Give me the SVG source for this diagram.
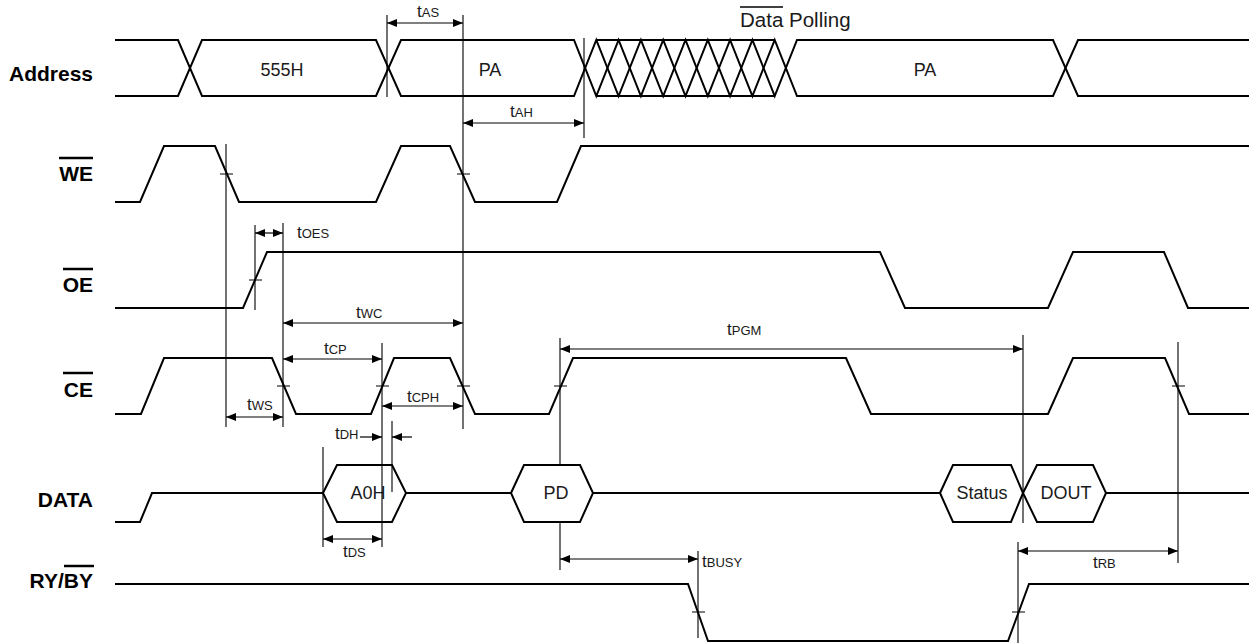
<svg xmlns="http://www.w3.org/2000/svg" width="1249" height="643" viewBox="0 0 1249 643">
<style>
.sig{fill:none;stroke:#000;stroke-width:2;stroke-linejoin:miter}
.guide{fill:none;stroke:#000;stroke-width:1.1}
.tick{fill:none;stroke:#000;stroke-width:1.1}
.arr{fill:none;stroke:#000;stroke-width:1.2;marker-end:url(#ah);marker-start:url(#ah)}
.arr1{fill:none;stroke:#000;stroke-width:1.2;marker-end:url(#ah)}
.name{font-family:"Liberation Sans",Arial,sans-serif;font-weight:bold;font-size:21px;fill:#000;text-anchor:end}
.bus{font-family:"Liberation Sans",Arial,sans-serif;font-size:18px;fill:#1a1a1a;text-anchor:middle}
.tl{font-family:"Liberation Sans",Arial,sans-serif;fill:#1a1a1a}
.t{font-size:17px}
.s{font-size:13px}
.ol{stroke:#000;stroke-width:2.5}
</style>
<defs>
<marker id="ah" viewBox="0 0 10 8" refX="10" refY="4" markerWidth="10" markerHeight="8" markerUnits="userSpaceOnUse" orient="auto-start-reverse">
<path d="M0,0 L10,4 L0,8 Z" fill="#000"/>
</marker>
</defs>
<rect width="1249" height="643" fill="#fff"/>

<g id="label-address">
<text class="name" x="93" y="81">Address</text>
</g>
<g id="label-we">
<text class="name" x="93" y="181">WE</text>
<line class="ol" x1="59" y1="158" x2="93" y2="158"/>
</g>
<g id="label-oe">
<text class="name" x="93" y="292">OE</text>
<line class="ol" x1="63" y1="269" x2="93" y2="269"/>
</g>
<g id="label-ce">
<text class="name" x="93" y="397">CE</text>
<line class="ol" x1="63" y1="373" x2="93" y2="373"/>
</g>
<g id="label-data">
<text class="name" x="93" y="507">DATA</text>
</g>
<g id="label-ryby">
<text class="name" x="93" y="588">RY/BY</text>
<line class="ol" x1="64" y1="566" x2="94" y2="566"/>
</g>

<g id="address">
<path class="sig" d="M115,40 H178 L202,96 H376 L401,40 H574 L596.3,96 L618.6,40 L640.9,96 L663.2,40 L685.5,96 L707.8,40 L730.1,96 L752.4,40 L774.7,96 L797,40 H1053 L1078,96 H1249"/>
<path class="sig" d="M115,96 H178 L202,40 H376 L401,96 H574 L596.3,40 L618.6,96 L640.9,40 L663.2,96 L685.5,40 L707.8,96 L730.1,40 L752.4,96 L774.7,40 L797,96 H1053 L1078,40 H1249"/>
<path class="sig" d="M596.3,40 H774.7 M596.3,96 H774.7"/>
<text class="bus" x="282" y="76">555H</text>
<text class="bus" x="490" y="76">PA</text>
<text class="bus" x="925" y="76">PA</text>
<text class="tl" x="740" y="27" font-size="20.5">Data Polling</text>
<line stroke="#000" stroke-width="1.6" x1="740" y1="7" x2="783" y2="7"/>
</g>

<g id="we">
<path class="sig" d="M115,202 H140 L164,146 H215 L239,202 H376 L401,146 H450 L475,202 H557 L581,146 H1249"/>
</g>

<g id="oe">
<path class="sig" d="M115,308 H243 L267,252 H880 L905,308 H1048 L1073,252 H1164 L1188,308 H1249"/>
</g>

<g id="ce">
<path class="sig" d="M115,414 H141 L164,358 H272 L296,414 H371 L394,358 H450 L475,414 H549 L573,358 H846 L871,414 H1048 L1073,358 H1165 L1189,414 H1249"/>
</g>

<g id="data">
<path class="sig" d="M115,522 H140 L152,493 H323 M406,493 H511 M593,493 H940 M1106,493 H1249"/>
<path class="sig" d="M323,493 L337,465 H392 L406,493 L392,522 H337 Z"/>
<path class="sig" d="M511,493 L524,465 H580 L593,493 L580,522 H524 Z"/>
<path class="sig" d="M940,493 L953,465 H1011 L1023,493 L1011,522 H953 Z"/>
<path class="sig" d="M1023,493 L1037,465 H1093 L1106,493 L1093,522 H1037 Z"/>
<text class="bus" x="368" y="499">A0H</text>
<text class="bus" x="556" y="499">PD</text>
<text class="bus" x="982" y="499">Status</text>
<text class="bus" x="1066" y="499">DOUT</text>
</g>

<g id="ryby">
<path class="sig" d="M115,584 H688 L708,641 H1008 L1029,584 H1249"/>
</g>

<g id="connectors">
<path class="guide" d="M387,15 V97 M463,15 V429 M584,38 V138 M226,144 V427 M255,225 V310 M283,223 V427 M382,343 V547 M392,421 V492 M323,447 V547 M560,338 V464 M560,522 V570 M698,551 V638 M1023,335 V523 M1178,342 V563 M1018,542 V643"/>
<path class="tick" d="M220,174 H233 M457,174 H470 M249,280 H262 M277,386 H290 M376,386 H389 M457,386 H470 M554,386 H567 M1172,386 H1185 M692,612 H705 M1012,612 H1025"/>
<line class="arr" x1="387" y1="23" x2="463" y2="23"/>
<line class="arr" x1="463" y1="123" x2="584" y2="123"/>
<line class="arr" x1="255" y1="233" x2="283" y2="233"/>
<line class="arr" x1="283" y1="323" x2="463" y2="323"/>
<line class="arr" x1="283" y1="359" x2="382" y2="359"/>
<line class="arr" x1="382" y1="406" x2="463" y2="406"/>
<line class="arr" x1="226" y1="417" x2="283" y2="417"/>
<line class="arr1" x1="360" y1="437" x2="382" y2="437"/>
<line class="arr1" x1="412" y1="437" x2="392" y2="437"/>
<line class="arr" x1="323" y1="539" x2="382" y2="539"/>
<line class="arr" x1="560" y1="349" x2="1023" y2="349"/>
<line class="arr" x1="560" y1="559" x2="698" y2="559"/>
<line class="arr" x1="1018" y1="551" x2="1178" y2="551"/>
<text class="tl" x="417" y="17"><tspan class="t">t</tspan><tspan class="s">AS</tspan></text>
<text class="tl" x="510" y="117"><tspan class="t">t</tspan><tspan class="s">AH</tspan></text>
<text class="tl" x="297" y="238"><tspan class="t">t</tspan><tspan class="s">OES</tspan></text>
<text class="tl" x="356" y="318"><tspan class="t">t</tspan><tspan class="s">WC</tspan></text>
<text class="tl" x="324" y="354"><tspan class="t">t</tspan><tspan class="s">CP</tspan></text>
<text class="tl" x="407" y="402"><tspan class="t">t</tspan><tspan class="s">CPH</tspan></text>
<text class="tl" x="247" y="410"><tspan class="t">t</tspan><tspan class="s">WS</tspan></text>
<text class="tl" x="335" y="439"><tspan class="t">t</tspan><tspan class="s">DH</tspan></text>
<text class="tl" x="343" y="557"><tspan class="t">t</tspan><tspan class="s">DS</tspan></text>
<text class="tl" x="727" y="335"><tspan class="t">t</tspan><tspan class="s">PGM</tspan></text>
<text class="tl" x="702" y="567"><tspan class="t">t</tspan><tspan class="s">BUSY</tspan></text>
<text class="tl" x="1093" y="568"><tspan class="t">t</tspan><tspan class="s">RB</tspan></text>
</g>
</svg>
